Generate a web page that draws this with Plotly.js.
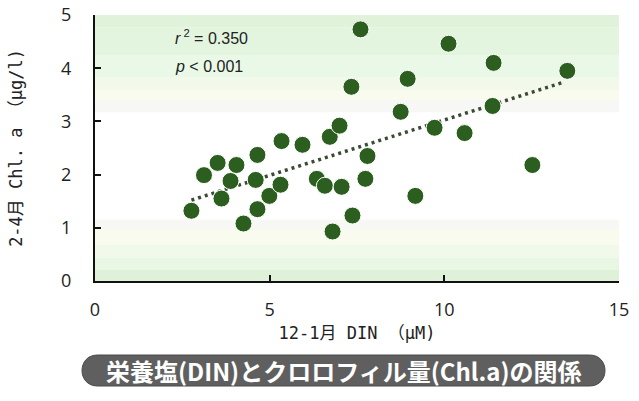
<!DOCTYPE html>
<html>
<head>
<meta charset="utf-8">
<script src="https://cdn.plot.ly/plotly-3.0.1.min.js"></script>
<style>html,body{margin:0;padding:0;background:#fff;}</style>
</head>
<body>
<div id="chart" style="width:639px;height:401px;"></div>
<script>
// Data: 12-1月 DIN (μM) vs 2-4月 Chl.a (μg/l)
const dinValues = [2.76, 3.12, 3.51, 3.62, 3.88, 4.05, 4.25, 4.65, 4.60, 4.65,
                   4.99, 5.31, 5.34, 5.94, 6.35, 6.58, 6.72, 6.80, 7.00, 7.06,
                   7.37, 7.34, 7.60, 7.74, 7.80, 9.17, 8.95, 8.75, 9.72, 10.12,
                   11.41, 13.52, 11.38, 10.58, 12.52];
const chlValues = [1.32, 1.99, 2.22, 1.55, 1.88, 2.18, 1.08, 2.37, 1.90, 1.35,
                   1.60, 1.81, 2.63, 2.56, 1.92, 1.79, 2.71, 0.93, 2.92, 1.77,
                   1.23, 3.65, 4.73, 1.92, 2.35, 1.60, 3.80, 3.18, 2.88, 4.46,
                   4.10, 3.95, 3.29, 2.78, 2.18];
const trendX = [2.76, 13.43];
const trendY = [1.52, 3.74];
const xTicks = [0, 5, 10, 15];
const yTicks = [0, 1, 2, 3, 4, 5];
const statLabels = ["<i>r</i><sup> 2</sup> = 0.350", "<i>p</i> < 0.001"];

// plot geometry helpers (pixel -> paper) for the banner
const L = 95, T = 15, W = 524, H = 266;
const px = v => (v - L) / W;
const py = v => (T + H - v) / H;
function pill(x0, x1, y0, y1) {
  const r = (y1 - y0) / 2, k = 4 / 3 * r;
  const pts = [
    `M${px(x0 + r)},${py(y0)}`,
    `L${px(x1 - r)},${py(y0)}`,
    `C${px(x1 - r + k)},${py(y0)} ${px(x1 - r + k)},${py(y1)} ${px(x1 - r)},${py(y1)}`,
    `L${px(x0 + r)},${py(y1)}`,
    `C${px(x0 + r - k)},${py(y1)} ${px(x0 + r - k)},${py(y0)} ${px(x0 + r)},${py(y0)}`,
    'Z'
  ];
  return pts.join(' ');
}

// background bands (style)
const bands = [
  [4.77, 5.00, '#e0f2da'], [4.25, 4.77, '#e4f5df'], [3.82, 4.25, '#eaf9e7'],
  [3.59, 3.82, '#f2f9ea'], [3.40, 3.59, '#f9fbef'], [3.17, 3.40, '#f7f8f5'],
  [0.96, 1.15, '#f7f8f3'], [0.68, 0.96, '#f9fbee'], [0.43, 0.68, '#f0f9ea'],
  [0.21, 0.43, '#e8f6e4'], [0.00, 0.21, '#e0f1da']
];
const shapes = bands.map(b => ({
  type: 'rect', xref: 'x', yref: 'y', x0: 0, x1: 15, y0: b[0], y1: b[1],
  fillcolor: b[2], line: {width: 0}, layer: 'below'
}));
shapes.push({
  type: 'path', xref: 'paper', yref: 'paper', path: pill(82, 605, 355, 386),
  fillcolor: '#5f5f5f', line: {color: '#4a4a4a', width: 1}
});

const traces = [
  {
    x: trendX, y: trendY, type: 'scatter', mode: 'lines',
    line: {color: '#3b4a35', width: 3.5, dash: '3px,4px'},
    hoverinfo: 'skip'
  },
  {
    x: dinValues, y: chlValues, type: 'scatter', mode: 'markers',
    marker: {size: 17, color: '#2b5e1f', line: {color: '#ffffff', width: 1}}
  }
];

const tickFont = {family: 'Open Sans, sans-serif', size: 18, color: '#222'};
const jpFont = {family: 'DejaVu Sans Mono, Noto Sans CJK JP, monospace', size: 17, color: '#222'};
const statFont = {family: 'Liberation Sans, Arial, sans-serif', size: 16, color: '#222'};

const layout = {
  width: 639, height: 401,
  margin: {l: L, r: 639 - L - W, t: T, b: 401 - T - H},
  paper_bgcolor: '#ffffff', plot_bgcolor: '#ffffff',
  showlegend: false,
  xaxis: {
    range: [0, 15], tickvals: xTicks, ticktext: xTicks.map(String),
    ticks: 'inside', ticklen: 6, tickwidth: 2, tickcolor: '#111',
    showline: true, linecolor: '#111', linewidth: 2,
    showgrid: false, zeroline: false, tickfont: tickFont,
    ticklabelstandoff: 11,
    title: {text: '12-1月 DIN （μM)', font: jpFont, standoff: 8}
  },
  yaxis: {
    range: [0, 5], tickvals: yTicks, ticktext: yTicks.map(String),
    ticks: 'inside', ticklen: 6, tickwidth: 2, tickcolor: '#111',
    showline: true, linecolor: '#111', linewidth: 2,
    showgrid: false, zeroline: false, tickfont: tickFont,
    ticklabelstandoff: 18,
    title: {text: '2-4月 Chl. a （μg/l)', font: jpFont, standoff: 34}
  },
  shapes: shapes,
  annotations: [
    {x: 2.22, y: 4.59, xref: 'x', yref: 'y', text: statLabels[0], showarrow: false,
     xanchor: 'left', yanchor: 'middle', font: statFont},
    {x: 2.22, y: 4.04, xref: 'x', yref: 'y', text: statLabels[1], showarrow: false,
     xanchor: 'left', yanchor: 'middle', font: statFont},
    {x: px(343.5), y: py(370.5), xref: 'paper', yref: 'paper',
     text: '<b>栄養塩(DIN)とクロロフィル量(Chl.a)の関係</b>', showarrow: false,
     xanchor: 'center', yanchor: 'middle',
     font: {family: 'Noto Sans CJK JP, sans-serif', size: 24, color: '#ffffff'}}
  ]
};

Plotly.newPlot('chart', traces, layout, {displayModeBar: false, staticPlot: true});
</script>
</body>
</html>
